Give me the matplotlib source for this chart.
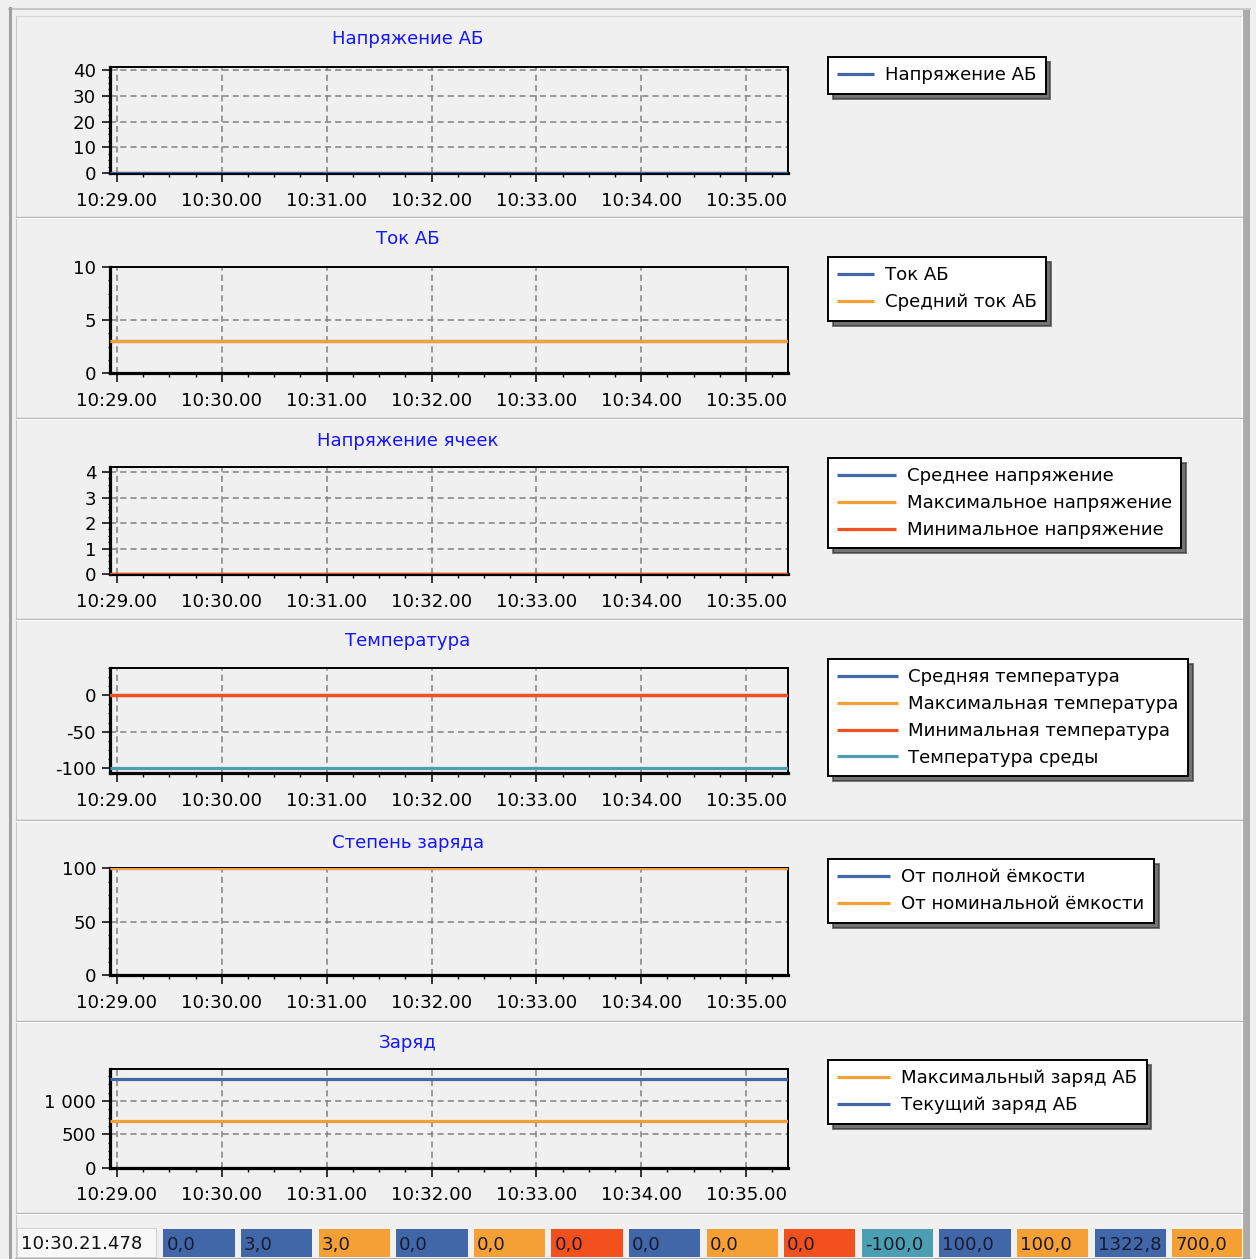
import matplotlib
matplotlib.use('Agg')
import matplotlib.pyplot as plt
import matplotlib.dates as mdates
from matplotlib.patches import Rectangle
from matplotlib.lines import Line2D
from matplotlib.ticker import MultipleLocator, AutoMinorLocator, FuncFormatter
import pandas as pd

# record start / end (the values did not change over the interval)
times = pd.to_datetime(['2000-01-01 10:28:56', '2000-01-01 10:35:24'])

u_ab = [0.0, 0.0]
i_ab = [3.0, 3.0]
i_ab_mean = [3.0, 3.0]
u_cell_mean = [0.0, 0.0]
u_cell_max = [0.0, 0.0]
u_cell_min = [0.0, 0.0]
temp_mean = [0.0, 0.0]
temp_max = [0.0, 0.0]
temp_min = [0.0, 0.0]
temp_env = [-100.0, -100.0]
soc_full = [100.0, 100.0]
soc_nom = [100.0, 100.0]
q_max = [700.0, 700.0]
q_cur = [1322.8, 1322.8]

status_time = '10:30.21.478'

titles = ['Напряжение АБ', 'Ток АБ', 'Напряжение ячеек', 'Температура',
          'Степень заряда', 'Заряд']

BLUE = '#4267A8'
ORANGE = '#F4A035'
RED = '#F2501C'
TEAL = '#4C9FB0'
BG = '#F0F0F0'

series = [
    [('Напряжение АБ', u_ab, BLUE)],
    [('Ток АБ', i_ab, BLUE), ('Средний ток АБ', i_ab_mean, ORANGE)],
    [('Среднее напряжение', u_cell_mean, BLUE),
     ('Максимальное напряжение', u_cell_max, ORANGE),
     ('Минимальное напряжение', u_cell_min, RED)],
    [('Средняя температура', temp_mean, BLUE),
     ('Максимальная температура', temp_max, ORANGE),
     ('Минимальная температура', temp_min, RED),
     ('Температура среды', temp_env, TEAL)],
    [('От полной ёмкости', soc_full, BLUE),
     ('От номинальной ёмкости', soc_nom, ORANGE)],
    [('Максимальный заряд АБ', q_max, ORANGE),
     ('Текущий заряд АБ', q_cur, BLUE)],
]

status = [(u_ab, BLUE), (i_ab, BLUE), (i_ab_mean, ORANGE),
          (u_cell_mean, BLUE), (u_cell_max, ORANGE), (u_cell_min, RED),
          (temp_mean, BLUE), (temp_max, ORANGE), (temp_min, RED), (temp_env, TEAL),
          (soc_full, BLUE), (soc_nom, ORANGE), (q_cur, BLUE), (q_max, ORANGE)]

ylims = [(0, 41.4), (0, 10), (0, 4.2), (-107, 37.5), (0, 100), (0, 1480)]
ysteps = [10, 5, 1, 50, 50, 500]

# layout in pixels
W, H = 1256, 1259
ax_left, ax_right = 110, 788
ax_tops = [66.5, 267, 467, 667.7, 868.3, 1069]
ax_bottoms = [173, 373, 574, 773.3, 975, 1167.7]
title_y = [38.5, 239.5, 440.5, 641.5, 842.5, 1043.5]
legend_top = [57, 257, 458, 659, 859, 1060]
handle_len = [2.0, 2.0, 3.2, 3.3, 2.9, 2.9]
sep_y = [216.5, 417.5, 618.5, 819.5, 1020.5]

FS = 13.1
plt.rcParams['font.family'] = ['DejaVu Sans']
plt.rcParams['axes.unicode_minus'] = False


def fx(x):
    return x / W


def fy(y):
    return 1 - y / H


fig = plt.figure(figsize=(W / 100, H / 100), dpi=100, facecolor=BG)


def hline(y, x0, x1, color, lw=0.75):
    fig.add_artist(Line2D([fx(x0), fx(x1)], [fy(y), fy(y)], transform=fig.transFigure,
                          color=color, lw=lw))


def vline(x, y0, y1, color, lw=0.75):
    fig.add_artist(Line2D([fx(x), fx(x)], [fy(y0), fy(y1)], transform=fig.transFigure,
                          color=color, lw=lw))


def box(x0, y0, x1, y1, **kw):
    fig.add_artist(Rectangle((fx(x0), fy(y1)), (x1 - x0) / W, (y1 - y0) / H,
                             transform=fig.transFigure, **kw))


# window frame
hline(8.5, 9, 1250, '#C8C8C8', 1.5)
hline(16, 16, 1242, '#D6D6D6', 0.8)
vline(9.5, 8, 1259, '#A0A0A0', 2.2)
vline(16, 16, 1259, '#C8C8C8', 0.8)
box(1243, 10, 1250, 1259, facecolor='#ABABAB', edgecolor='none')
vline(1242, 16, 1259, '#FFFFFF', 0.8)
for y in sep_y:
    hline(y, 16, 1242, '#B4B4B4', 1.0)
    hline(y + 1.5, 16, 1242, '#FFFFFF', 0.8)
hline(1212.5, 16, 1242, '#B4B4B4', 1.0)
hline(1214, 16, 1242, '#FFFFFF', 0.8)


def thousands(v, pos):
    return f'{v:,.0f}'.replace(',', ' ')


for k in range(6):
    ax = fig.add_axes([fx(ax_left), fy(ax_bottoms[k]), (ax_right - ax_left) / W,
                       (ax_bottoms[k] - ax_tops[k]) / H])
    ax.set_facecolor(BG)
    for label, vals, col in series[k]:
        ax.plot(times, vals, color=col, lw=2.3, label=label, zorder=3,
                solid_capstyle='butt')
    ax.set_xlim(times[0], times[-1])
    ax.set_ylim(*ylims[k])
    ax.xaxis.set_major_locator(mdates.MinuteLocator())
    ax.xaxis.set_minor_locator(mdates.SecondLocator(bysecond=[15, 30, 45]))
    ax.xaxis.set_major_formatter(mdates.DateFormatter('%H:%M.%S'))
    ax.yaxis.set_major_locator(MultipleLocator(ysteps[k]))
    ax.yaxis.set_minor_locator(AutoMinorLocator(4))
    if k == 5:
        ax.yaxis.set_major_formatter(FuncFormatter(thousands))
    ax.grid(True, which='major', color='#808080', lw=1.1, ls=(0, (4, 2.7)))
    ax.set_axisbelow(True)
    ax.spines['left'].set_linewidth(2.3)
    ax.spines['bottom'].set_linewidth(2.3)
    ax.spines['top'].set_linewidth(1.4)
    ax.spines['right'].set_linewidth(1.4)
    ax.tick_params(axis='x', which='major', length=6.5, width=1.1, pad=7, labelsize=FS)
    ax.tick_params(axis='x', which='minor', length=3, width=1.0)
    ax.tick_params(axis='y', which='major', length=5.5, width=1.1, pad=4.5, labelsize=FS)
    ax.tick_params(axis='y', which='minor', length=1.8, width=0.8)

    fig.text(fx(408), fy(title_y[k]), titles[k], ha='center', va='center',
             color='#1414FF', fontsize=FS)

    leg = ax.legend(loc='upper left', bbox_to_anchor=(fx(828), fy(legend_top[k])),
                    bbox_transform=fig.transFigure, borderaxespad=0, fontsize=FS,
                    frameon=True, fancybox=False, framealpha=1,
                    shadow={'ox': 3.5, 'oy': -3.5, 'color': '#303030', 'alpha': 0.65},
                    borderpad=0.52, labelspacing=0.48, handlelength=handle_len[k],
                    handletextpad=0.6)
    leg.get_frame().set_edgecolor('black')
    leg.get_frame().set_linewidth(1.4)
    leg.get_frame().set_facecolor('white')

# status bar
box(17, 1228, 156, 1257, facecolor='#F8F8F8', edgecolor='#D4D4D4', lw=0.8)
fig.text(fx(21), fy(1244), status_time, ha='left', va='center', fontsize=FS,
         color='#101010')
for i, (vals, col) in enumerate(status):
    x0 = 163.3 + i * 77.6
    box(x0, 1229, x0 + 71.4, 1257, facecolor=col, edgecolor='none')
    fig.text(fx(x0 + 3), fy(1245), f'{vals[-1]:.1f}'.replace('.', ','),
             ha='left', va='center', fontsize=FS, color='#1A1A30')
hline(1258.5, 16, 1250, '#A0A0A0', 1.2)

fig.savefig('out.png', dpi=100, facecolor=fig.get_facecolor())
